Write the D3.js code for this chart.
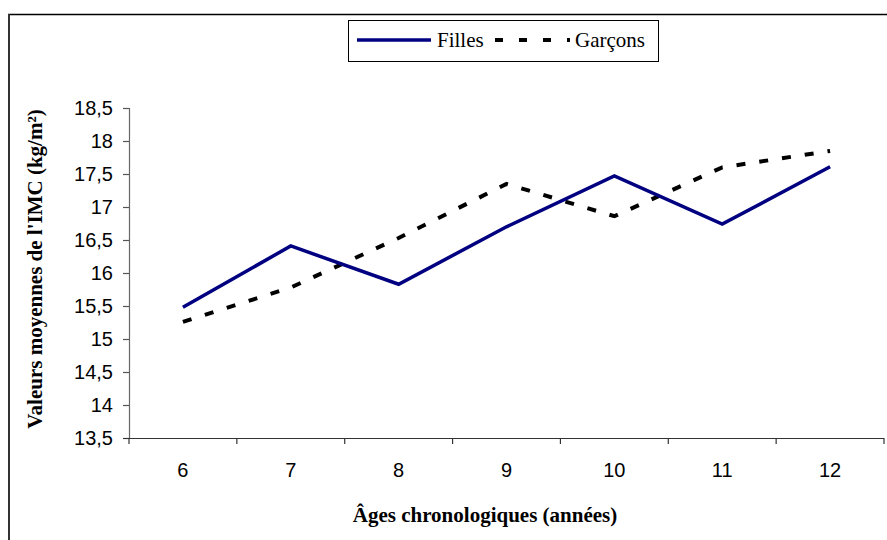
<!DOCTYPE html>
<html>
<head>
<meta charset="utf-8">
<script src="https://cdnjs.cloudflare.com/ajax/libs/d3/7.8.5/d3.min.js"></script>
<style>
  html, body { margin: 0; padding: 0; background: #fff; }
  svg { display: block; }
</style>
</head>
<body>
<svg id="chart" width="887" height="540"></svg>
<script>
// Ages (years) on the category axis
const ages = ["6", "7", "8", "9", "10", "11", "12"];
// Mean BMI values (kg/m²)
const filles = [15.48, 16.41, 15.83, 16.70, 17.47, 16.74, 17.61];
const garcons = [15.26, 15.78, 16.53, 17.35, 16.86, 17.60, 17.85];
// Value-axis ticks
const yTicks = [13.5, 14, 14.5, 15, 15.5, 16, 16.5, 17, 17.5, 18, 18.5];

const SANS = "'Liberation Sans', Arial, sans-serif";
const SERIF = "'Liberation Serif', 'Times New Roman', serif";

const svg = d3.select("#chart");
const W = 887, H = 540;
const plot = { left: 129, right: 884, top: 108, bottom: 438 };

// Outer frame: top and left edges
svg.append("line").attr("x1", 8).attr("x2", 887).attr("y1", 14.5).attr("y2", 14.5)
  .attr("stroke", "#000").attr("stroke-width", 1.5);
svg.append("line").attr("x1", 9).attr("x2", 9).attr("y1", 14).attr("y2", H)
  .attr("stroke", "#333").attr("stroke-width", 2);

const x = d3.scaleBand().domain(ages).range([plot.left, plot.right]).paddingInner(0).paddingOuter(0);
const y = d3.scaleLinear().domain([13.5, 18.5]).range([plot.bottom, plot.top]);

const fmt = d => String(d).replace(".", ",");

// Y axis
const yAxis = svg.append("g").attr("transform", `translate(${plot.left},0)`)
  .call(d3.axisLeft(y).tickValues(yTicks).tickFormat(fmt).tickSize(6).tickPadding(10));
yAxis.select(".domain").attr("stroke", "#666").attr("stroke-width", 1.2);
yAxis.selectAll(".tick line").attr("stroke", "#555").attr("stroke-width", 1.2);
yAxis.selectAll("text").attr("font-family", SANS)
  .attr("font-size", 20).attr("fill", "#000").attr("dy", "0.33em");

// X axis with ticks at category boundaries
const xAxis = svg.append("g").attr("transform", `translate(0,${plot.bottom})`);
xAxis.append("line").attr("x1", plot.left - 6).attr("x2", plot.right)
  .attr("y1", 0.5).attr("y2", 0.5).attr("stroke", "#333").attr("stroke-width", 1.2);
const boundaries = ages.map(a => x(a)).concat([plot.right]);
xAxis.selectAll("line.tk").data(boundaries).join("line").attr("class", "tk")
  .attr("x1", d => d).attr("x2", d => d).attr("y1", 0).attr("y2", 6)
  .attr("stroke", "#333").attr("stroke-width", 1.2);
xAxis.selectAll("text").data(ages).join("text")
  .attr("x", d => x(d) + x.bandwidth() / 2).attr("y", 39)
  .attr("text-anchor", "middle")
  .attr("font-family", SANS).attr("font-size", 20)
  .text(d => d);

// Axis titles
svg.append("text")
  .attr("transform", `translate(42,269) rotate(-90)`)
  .attr("text-anchor", "middle")
  .attr("font-family", SERIF)
  .attr("font-weight", "bold").attr("font-size", 21)
  .text("Valeurs moyennes de l'IMC (kg/m²)");
svg.append("text")
  .attr("x", 485).attr("y", 522)
  .attr("text-anchor", "middle")
  .attr("font-family", SERIF)
  .attr("font-weight", "bold").attr("font-size", 21)
  .text("Âges chronologiques (années)");

// Series lines
const line = d3.line().x((d, i) => x(ages[i]) + x.bandwidth() / 2).y(d => y(d));
svg.append("path").datum(garcons).attr("d", line)
  .attr("fill", "none").attr("stroke", "#000").attr("stroke-width", 4)
  .attr("stroke-dasharray", "9,14");
svg.append("path").datum(filles).attr("d", line)
  .attr("fill", "none").attr("stroke", "#000080").attr("stroke-width", 3.5)
  .attr("stroke-linejoin", "miter");

// Legend
const lg = svg.append("g");
lg.append("rect").attr("x", 348.5).attr("y", 20.5).attr("width", 310).attr("height", 41)
  .attr("fill", "#fff").attr("stroke", "#000").attr("stroke-width", 1);
lg.append("line").attr("x1", 357).attr("x2", 431).attr("y1", 40).attr("y2", 40)
  .attr("stroke", "#000080").attr("stroke-width", 3.5);
lg.append("text").attr("x", 437).attr("y", 47)
  .attr("font-family", SERIF).attr("font-size", 21)
  .text("Filles");
lg.append("line").attr("x1", 495).attr("x2", 570).attr("y1", 40).attr("y2", 40)
  .attr("stroke", "#000").attr("stroke-width", 4).attr("stroke-dasharray", "8,16");
lg.append("text").attr("x", 575).attr("y", 47)
  .attr("font-family", SERIF).attr("font-size", 21)
  .text("Garçons");
</script>
</body>
</html>
